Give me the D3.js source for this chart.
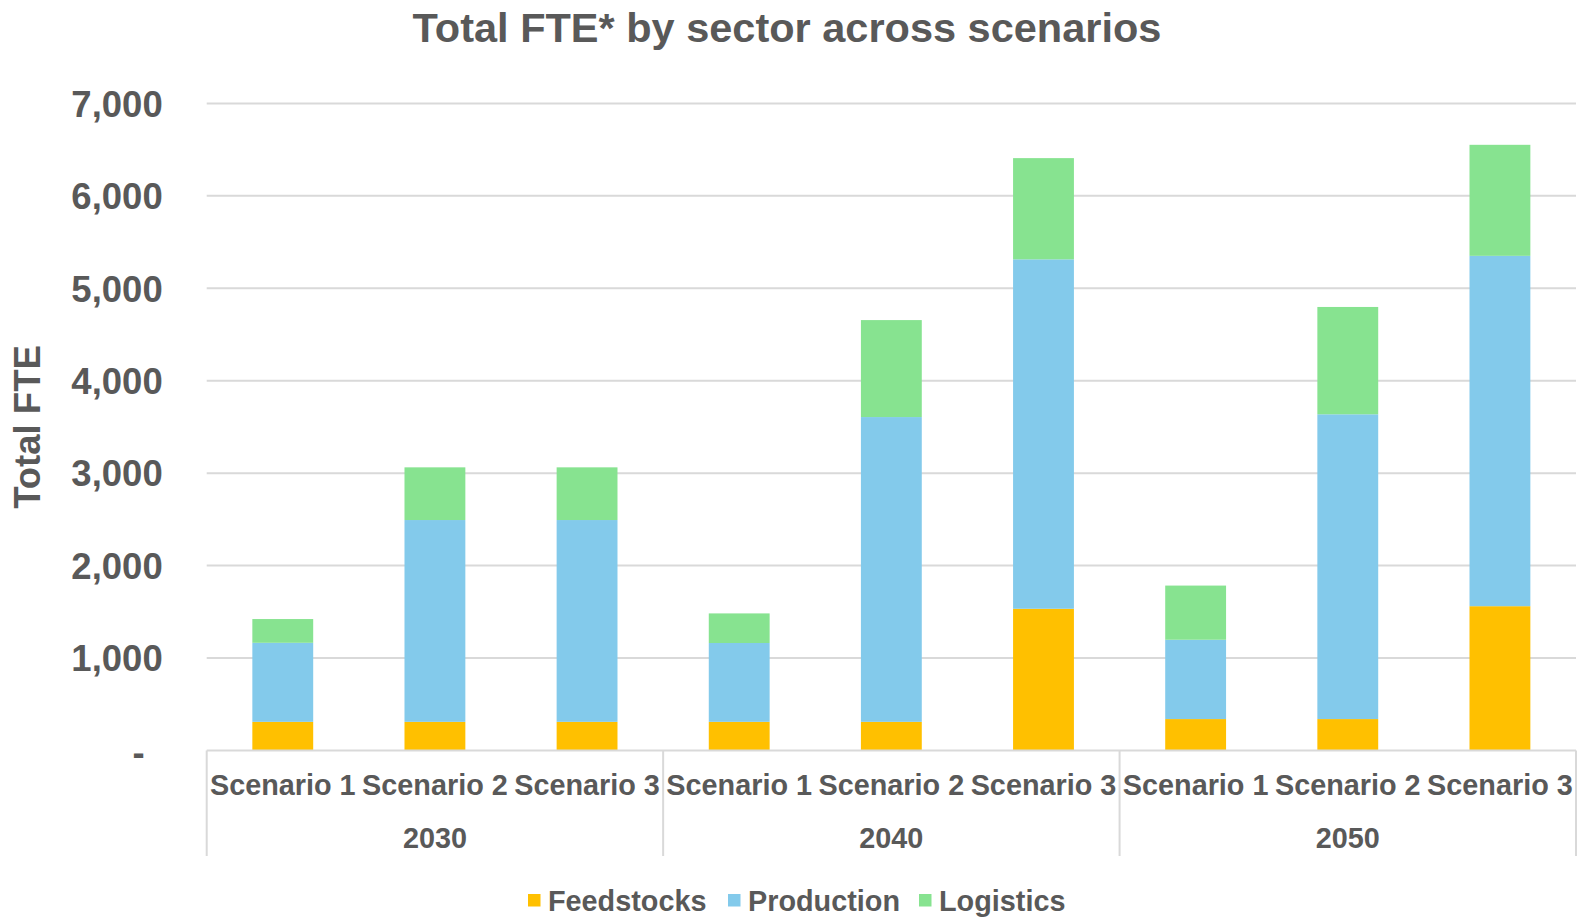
<!DOCTYPE html>
<html>
<head>
<meta charset="utf-8">
<script src="https://cdn.jsdelivr.net/npm/d3@7"></script>
<style>
  html, body { margin: 0; padding: 0; background: #fff; }
  svg { display: block; }
  text { font-family: "Liberation Sans", Arial, sans-serif; font-weight: bold; fill: #595959; }
</style>
</head>
<body>
<svg id="chart" width="1589" height="923"></svg>
<script>
// ---- data ----
const years = ["2030", "2040", "2050"];
const scenarios = ["Scenario 1", "Scenario 2", "Scenario 3"];
const seriesNames = ["Feedstocks", "Production", "Logistics"];
// values in order: 2030 S1..S3, 2040 S1..S3, 2050 S1..S3
const feedstocks = [310, 310, 310, 310, 310, 1533, 340, 340, 1561];
const production = [855, 2183, 2183, 853, 3297, 3780, 858, 3297, 3790];
const logistics  = [257, 570, 570, 320, 1049, 1095, 586, 1161, 1201];
const yTicks = [0, 1000, 2000, 3000, 4000, 5000, 6000, 7000];
const colors = ["#FFC000", "#83CAEB", "#87E390"];

// ---- build table ----
const rows = [];
years.forEach((yr, gi) => scenarios.forEach((sc, si) => {
  const i = gi * 3 + si;
  rows.push({ key: yr + "|" + sc, year: yr, scenario: sc,
    Feedstocks: feedstocks[i], Production: production[i], Logistics: logistics[i] });
}));

const svg = d3.select("#chart");
const plotL = 206.7, plotR = 1576, plotT = 103.4, plotB = 750.5;

const x = d3.scaleBand().domain(rows.map(d => d.key)).range([plotL, plotR])
  .paddingInner(0.6).paddingOuter(0.3);
const y = d3.scaleLinear().domain([0, 7000]).range([plotB, plotT]);

// gridlines
svg.append("g").selectAll("line").data(yTicks.filter(t => t > 0)).join("line")
  .attr("x1", plotL).attr("x2", plotR)
  .attr("y1", d => y(d)).attr("y2", d => y(d))
  .attr("stroke", "#D9D9D9").attr("stroke-width", 2);

// stacked bars
const stack = d3.stack().keys(seriesNames)(rows);
svg.append("g").selectAll("g").data(stack).join("g")
  .attr("fill", (d, i) => colors[i])
  .selectAll("rect").data(d => d).join("rect")
  .attr("x", d => x(d.data.key))
  .attr("width", x.bandwidth())
  .attr("y", d => y(d[1]))
  .attr("height", d => y(d[0]) - y(d[1]));

// y axis labels
const yAxis = d3.axisLeft(y).tickValues(yTicks)
  .tickFormat(d => d === 0 ? "-" : d3.format(",")(d)).tickSize(0).tickPadding(0);
const ya = svg.append("g").attr("transform", `translate(${plotL - 44},0)`).call(yAxis);
ya.select(".domain").remove();
ya.selectAll("text").attr("font-size", 36.5).attr("fill", "#595959")
  .attr("dx", d => d === 0 ? -18 : 0)
  .attr("dy", d => d === 0 ? "0.38em" : "0.35em");
ya.attr("font-family", null).attr("font-size", null);

// x axis baseline
svg.append("line").attr("x1", plotL).attr("x2", plotR)
  .attr("y1", plotB).attr("y2", plotB)
  .attr("stroke", "#D9D9D9").attr("stroke-width", 2);

// group separators
const half = (x.step() - x.bandwidth()) / 2;
const seps = years.map(yr => x(yr + "|" + scenarios[0]) - half);
seps.push(x(years[years.length - 1] + "|" + scenarios[scenarios.length - 1]) + x.bandwidth() + half);
svg.append("g").selectAll("line").data(seps).join("line")
  .attr("x1", d => d).attr("x2", d => d)
  .attr("y1", plotB).attr("y2", 856)
  .attr("stroke", "#D9D9D9").attr("stroke-width", 2);

// scenario labels
svg.append("g").selectAll("text").data(rows).join("text")
  .attr("x", d => x(d.key) + x.bandwidth() / 2)
  .attr("y", 795)
  .attr("text-anchor", "middle")
  .attr("font-size", 28.8)
  .text(d => d.scenario);

// year labels
svg.append("g").selectAll("text").data(years).join("text")
  .attr("x", yr => (x(yr + "|" + scenarios[0]) + x(yr + "|" + scenarios[2]) + x.bandwidth()) / 2)
  .attr("y", 848)
  .attr("text-anchor", "middle")
  .attr("font-size", 28.8)
  .text(d => d);

// title
svg.append("text").attr("x", 787).attr("y", 42).attr("text-anchor", "middle")
  .attr("font-size", 41.5).text("Total FTE* by sector across scenarios");

// y axis title
svg.append("text").attr("transform", "translate(40,427) rotate(-90)")
  .attr("text-anchor", "middle").attr("font-size", 36.5).text("Total FTE");

// legend
const legendX = [528, 728, 919];
const lg = svg.append("g").selectAll("g").data(seriesNames).join("g")
  .attr("transform", (d, i) => `translate(${legendX[i]},894)`);
lg.append("rect").attr("width", 12.5).attr("height", 12.5).attr("fill", (d, i) => colors[i]);
lg.append("text").attr("x", 20).attr("y", 17).attr("font-size", 28.8).text(d => d);
</script>
</body>
</html>
